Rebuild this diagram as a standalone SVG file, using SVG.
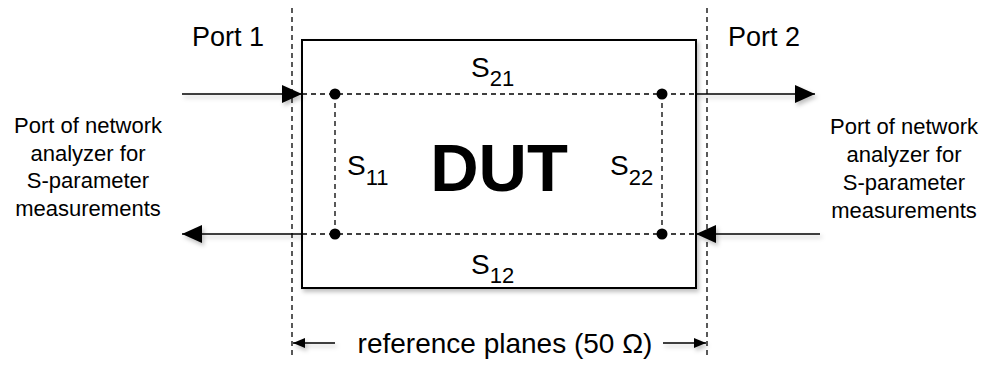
<svg xmlns="http://www.w3.org/2000/svg" width="982" height="365" viewBox="0 0 982 365">
<defs>
<style>
text{font-family:"Liberation Sans",Arial,sans-serif;fill:#000}
.port{font-size:27px}
.s{font-size:28px}
.sub{font-size:22px}
.side{font-size:22px;text-anchor:middle}
.dash{stroke:#000;stroke-width:1.3;stroke-dasharray:5,4;fill:none}
.line{stroke:#000;stroke-width:1.6;fill:none}
.dot{fill:#000}
</style>
<marker id="ah" viewBox="0 0 12 10" refX="12" refY="5" markerWidth="12" markerHeight="10" markerUnits="userSpaceOnUse" orient="auto">
<path d="M0,0 L12,5 L0,10 z" fill="#000"/>
</marker>
<marker id="big" viewBox="0 0 20 20" refX="20" refY="10" markerWidth="20" markerHeight="20" markerUnits="userSpaceOnUse" orient="auto">
<path d="M0,1 L20,10 L0,19 z" fill="#000"/>
</marker>
<filter id="sh" x="-10%" y="-10%" width="130%" height="130%">
<feDropShadow dx="2" dy="3" stdDeviation="2" flood-color="#000" flood-opacity="0.25"/>
</filter>
</defs>

<g id="dut" filter="url(#sh)">
<rect x="302" y="40" width="394" height="248" fill="#fff" stroke="#000" stroke-width="2"/>
<text x="499" y="191" font-size="67" font-weight="bold" text-anchor="middle">DUT</text>
</g>

<g id="plane1">
<line class="dash" x1="292" y1="8" x2="292" y2="356"/>
</g>
<g id="plane2">
<line class="dash" x1="707" y1="8" x2="707" y2="356"/>
</g>

<g id="connectors">
<line class="dash" x1="302" y1="94" x2="696" y2="94"/>
<line class="dash" x1="302" y1="234" x2="696" y2="234"/>
<line class="dash" x1="335" y1="94" x2="335" y2="234"/>
<line class="dash" x1="662" y1="94" x2="662" y2="234"/>
<g filter="url(#sh)">
<line class="line" x1="182" y1="94" x2="302" y2="94" marker-end="url(#big)"/>
<line class="line" x1="696" y1="94" x2="815" y2="94" marker-end="url(#big)"/>
<line class="line" x1="302" y1="234" x2="182" y2="234" marker-end="url(#big)"/>
<line class="line" x1="820" y1="234" x2="696" y2="234" marker-end="url(#big)"/>
<line class="line" x1="335" y1="343" x2="293" y2="343" marker-end="url(#ah)"/>
<line class="line" x1="663" y1="343" x2="706" y2="343" marker-end="url(#ah)"/>
</g>
</g>

<g id="nodes-dots">
<circle class="dot" cx="335" cy="94" r="5.5"/>
<circle class="dot" cx="662" cy="94" r="5.5"/>
<circle class="dot" cx="335" cy="234" r="5.5"/>
<circle class="dot" cx="662" cy="234" r="5.5"/>
</g>

<g id="labels">
<text class="port" x="192" y="46">Port 1</text>
<text class="port" x="728" y="46">Port 2</text>
<text class="s" x="471" y="77">S<tspan class="sub" dy="9">21</tspan></text>
<text class="s" x="471" y="274">S<tspan class="sub" dy="9">12</tspan></text>
<text class="s" x="347" y="175">S<tspan class="sub" dy="10">11</tspan></text>
<text class="s" x="610" y="175">S<tspan class="sub" dy="10">22</tspan></text>
<text class="s" x="505" y="353" text-anchor="middle">reference planes (50 Ω)</text>
</g>

<g id="port-left">
<text class="side" x="88" y="133">Port of network</text>
<text class="side" x="88" y="161">analyzer for</text>
<text class="side" x="88" y="188">S-parameter</text>
<text class="side" x="88" y="216">measurements</text>
</g>
<g id="port-right">
<text class="side" x="904" y="134">Port of network</text>
<text class="side" x="904" y="162">analyzer for</text>
<text class="side" x="904" y="190">S-parameter</text>
<text class="side" x="904" y="218">measurements</text>
</g>
</svg>
